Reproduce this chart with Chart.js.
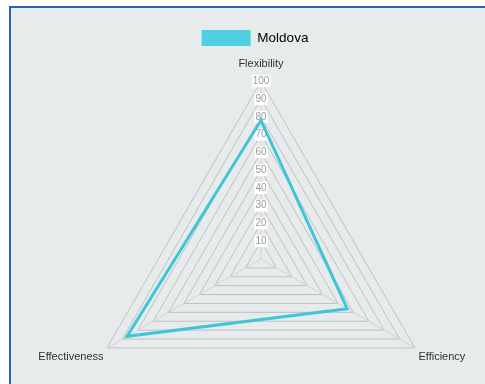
<!DOCTYPE html>
<html><head><meta charset="utf-8">
<script src="https://cdn.jsdelivr.net/npm/chart.js@4/dist/chart.umd.min.js"></script>
<style>
html,body{margin:0;padding:0;background:#ffffff;overflow:hidden;}
#box{position:absolute;left:9px;top:6px;width:476px;height:378px;background:#e8ebeb;border-left:2px solid #2a62b0;border-top:2px solid #2a62b0;box-sizing:border-box;}
#c{position:absolute;left:27px;top:8px;}
</style></head><body>
<div id="box"></div>
<canvas id="c" width="456" height="444"></canvas>
<script>
const categories = ["Flexibility", "Efficiency", "Effectiveness"];
const seriesName = "Moldova";
const moldova = [78, 56, 87];
const tickValues = [0,10,20,30,40,50,60,70,80,90,100];

new Chart(document.getElementById('c'), {
  type: 'radar',
  data: {
    labels: categories,
    datasets: [{
      label: seriesName,
      data: moldova,
      borderColor: '#40c5d7',
      backgroundColor: '#4fd0e2',
      borderWidth: 3,
      fill: false,
      pointRadius: 0,
      tension: 0
    }]
  },
  options: {
    responsive: false,
    animation: false,
    layout: {padding: {left: 0, right: 0, top: 12, bottom: 0}},
    plugins: {
      legend: {
        display: true,
        position: 'top',
        maxHeight: 28,
        labels: {
          boxWidth: 49, boxHeight: 16, padding: 10,
          font: {family: 'Liberation Sans', size: 13.5},
          color: '#222',
          generateLabels: () => [{text: seriesName, fillStyle: '#4fd0e2', strokeStyle: '#4fd0e2', lineWidth: 0, datasetIndex: 0}]
        }
      },
      tooltip: {enabled: false}
    },
    scales: {
      r: {
        min: 0, max: 100,
        afterBuildTicks: (s) => { s.ticks = tickValues.map(v => ({value: v})); },
        ticks: {
          font: {family: 'Liberation Sans', size: 10},
          color: '#9a9a9a',
          showLabelBackdrop: true,
          backdropColor: '#ffffff',
          backdropPadding: 1
        },
        grid: {color: '#bec1c1', lineWidth: 1},
        angleLines: {color: '#d0d3d3', lineWidth: 1},
        pointLabels: {
          font: {family: 'Liberation Sans', size: 11},
          color: '#333',
          padding: (ctx) => ctx.index === 0 ? 5 : -2
        }
      }
    }
  }
});
</script>
</body></html>
